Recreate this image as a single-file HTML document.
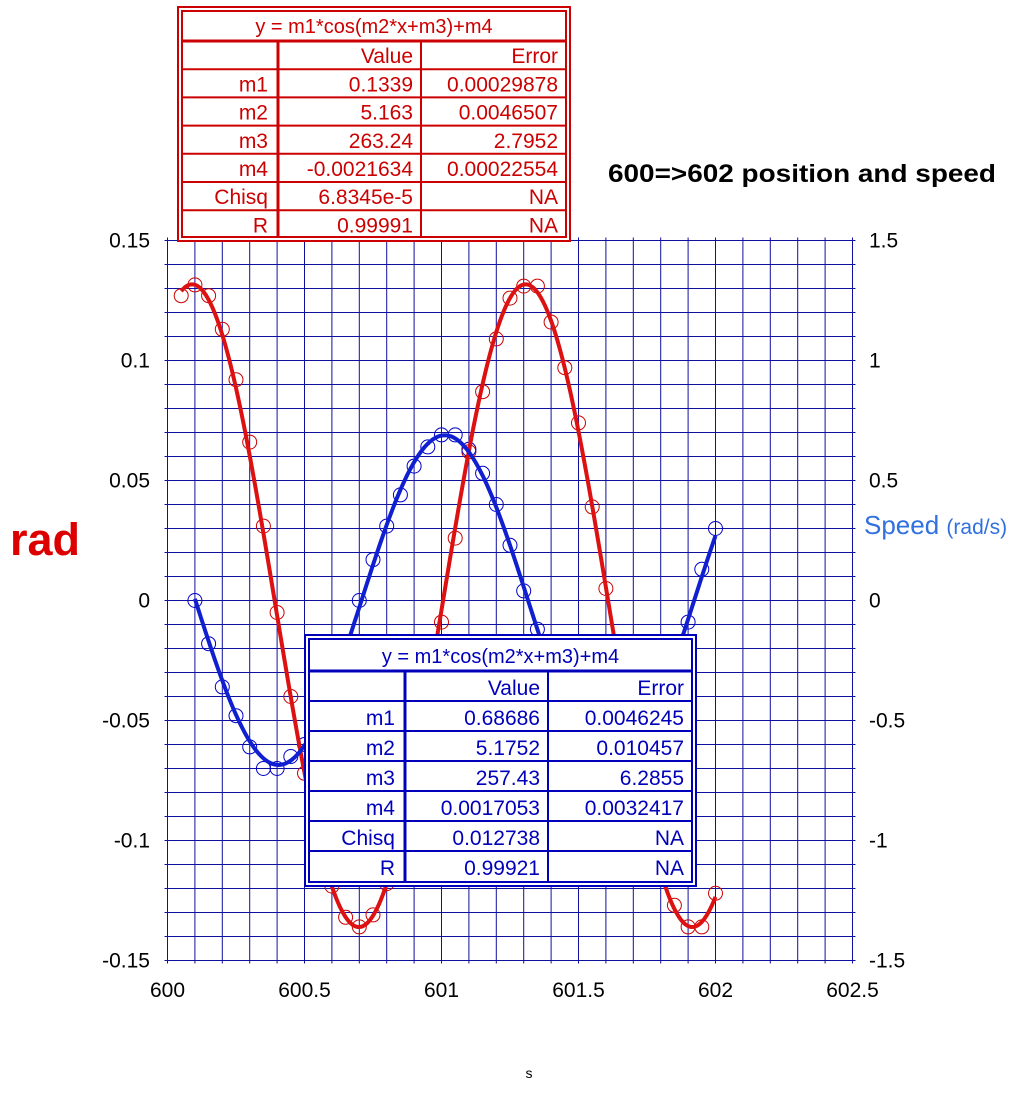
<!DOCTYPE html>
<html><head><meta charset="utf-8"><style>
html,body{margin:0;padding:0;background:#fff;}
svg text{font-family:"Liberation Sans",Arial,sans-serif;}
</style></head><body>
<svg id="chart" width="1034" height="1093" viewBox="0 0 1034 1093" xmlns="http://www.w3.org/2000/svg">
<rect width="1034" height="1093" fill="#fff"/>
<g id="grid"></g>
<g id="ticks"></g>
<g id="series"></g>
<text x="608" y="182" font-size="25" font-weight="bold" fill="#000" textLength="388" lengthAdjust="spacingAndGlyphs">600=&gt;602 position and speed</text>
<text x="10" y="555" font-size="45" font-weight="bold" fill="#dd0000">rad</text>
<text x="864" y="534" font-size="26" fill="#3070e0">Speed <tspan font-size="21">(rad/s)</tspan></text>
<text x="529" y="1078" font-size="14" text-anchor="middle" fill="#000">s</text>
<g id="tables"></g>
</svg>
<script>
const xTicks=[600,600.5,601,601.5,602,602.5];
const yTicksLeft=[0.15,0.1,0.05,0,-0.05,-0.1,-0.15];
const yTickLabelsLeft=["0.15","0.1","0.05","0","-0.05","-0.1","-0.15"];
const yTickLabelsRight=["1.5","1","0.5","0","-0.5","-1","-1.5"];
const posX=[600.05,600.1,600.15,600.2,600.25,600.3,600.35,600.4,600.45,600.5,600.55,600.6,600.65,600.7,600.75,600.8,600.85,600.9,600.95,601.0,601.05,601.1,601.15,601.2,601.25,601.3,601.35,601.4,601.45,601.5,601.55,601.6,601.65,601.7,601.75,601.8,601.85,601.9,601.95,602.0];
const posY=[0.127,0.1315,0.127,0.113,0.092,0.066,0.031,-0.005,-0.040,-0.072,-0.099,-0.119,-0.132,-0.136,-0.131,-0.118,-0.097,-0.070,-0.038,-0.009,0.026,0.062,0.087,0.109,0.126,0.131,0.131,0.116,0.097,0.074,0.039,0.005,-0.029,-0.062,-0.090,-0.113,-0.127,-0.136,-0.136,-0.122];
const spdX=[600.1,600.15,600.2,600.25,600.3,600.35,600.4,600.45,600.5,600.55,600.6,600.65,600.7,600.75,600.8,600.85,600.9,600.95,601.0,601.05,601.1,601.15,601.2,601.25,601.3,601.35,601.4,601.45,601.5,601.55,601.6,601.65,601.7,601.75,601.8,601.85,601.9,601.95,602.0];
const spdY=[0.0,-0.18,-0.36,-0.48,-0.61,-0.70,-0.70,-0.65,-0.60,-0.50,-0.36,-0.20,0.0,0.17,0.31,0.44,0.56,0.64,0.69,0.69,0.63,0.53,0.40,0.23,0.04,-0.12,-0.29,-0.44,-0.56,-0.64,-0.68,-0.68,-0.62,-0.53,-0.41,-0.25,-0.09,0.13,0.30];
const posFit=[0.1339,5.163,263.24,-0.0021634];
const spdFit=[0.68686,5.1752,257.43,0.0017053];
const posTable=[["m1","0.1339","0.00029878"],["m2","5.163","0.0046507"],["m3","263.24","2.7952"],["m4","-0.0021634","0.00022554"],["Chisq","6.8345e-5","NA"],["R","0.99991","NA"]];
const spdTable=[["m1","0.68686","0.0046245"],["m2","5.1752","0.010457"],["m3","257.43","6.2855"],["m4","0.0017053","0.0032417"],["Chisq","0.012738","NA"],["R","0.99921","NA"]];

const NS="http://www.w3.org/2000/svg";
const L=167.5,R=852.5,T=240.5,B=960.5;
const sx=v=>L+(v-600)/2.5*(R-L);
const syL=v=>T+(0.15-v)/0.3*(B-T);
const syR=v=>T+(1.5-v)/3*(B-T);
function mk(tag,attrs,parent){const e=document.createElementNS(NS,tag);for(const k in attrs)e.setAttribute(k,attrs[k]);parent.appendChild(e);return e;}
const grid=document.getElementById('grid'),ticks=document.getElementById('ticks'),ser=document.getElementById('series'),tbl=document.getElementById('tables');
for(let i=0;i<=25;i++){const x=sx(600+i*0.1);
 const ln=mk('line',{x1:x,x2:x,y1:T-3,y2:B+3,stroke:'#1010a0','stroke-width':1},grid);
 
 }
for(let i=0;i<=30;i++){const y=syL(0.15-i*0.01);
 const ln=mk('line',{x1:L-3,x2:R+3,y1:y,y2:y,stroke:'#1010a0','stroke-width':1},grid);
 
 }
xTicks.forEach(v=>{const t=mk('text',{x:sx(v),y:997,'font-size':21,'text-anchor':'middle',fill:'#000'},ticks);t.textContent=String(v);
 
 });
yTicksLeft.forEach((v,i)=>{const y=syL(v)+7;
 const t=mk('text',{x:150,y:y,'font-size':21,'text-anchor':'end',fill:'#000'},ticks);t.textContent=yTickLabelsLeft[i];
 
 
 const t2=mk('text',{x:869,y:y,'font-size':21,fill:'#000'},ticks);t2.textContent=yTickLabelsRight[i];
 
 });
function fitPath(p,x0,x1,sy){let d='';for(let i=0;i<=300;i++){const x=x0+(x1-x0)*i/300;const y=p[0]*Math.cos(p[1]*x+p[2])+p[3];d+=(i?'L':'M')+sx(x).toFixed(2)+','+sy(y).toFixed(2);}return d;}
function circles(xs,ys,sy,col,name){xs.forEach((x,i)=>{const c=mk('circle',{cx:sx(x),cy:sy(ys[i]),r:7,fill:'none',stroke:col,'stroke-width':1},ser);
 
 });}
circles(posX,posY,syL,'#cc0000','position-point');
circles(spdX,spdY,syR,'#0000cc','speed-point');
const pf=mk('path',{d:fitPath(posFit,posX[0],posX[posX.length-1],syL),fill:'none',stroke:'#dd1111','stroke-width':4},ser);


const sf=mk('path',{d:fitPath(spdFit,spdX[0],spdX[spdX.length-1],syR),fill:'none',stroke:'#1020d0','stroke-width':4},ser);


function table(rows,x,y,w,h,titleH,rowH,c1,c2,col,name){
 const g=mk('g',{},tbl);
 
 
 mk('rect',{x:x,y:y,width:w,height:h,fill:'#fff',stroke:col,'stroke-width':2},g);
 mk('rect',{x:x+4,y:y+4,width:w-8,height:h-8,fill:'none',stroke:col,'stroke-width':2},g);
 const ix=x+4,iw=w-8,ty=y+4;
 const tt=mk('text',{x:x+w/2,y:ty+titleH-8,'font-size':20,'text-anchor':'middle',fill:col},g);tt.textContent='y = m1*cos(m2*x+m3)+m4';
 mk('line',{x1:ix,x2:ix+iw,y1:ty+titleH,y2:ty+titleH,stroke:col,'stroke-width':3},g);
 const all=[["","Value","Error"]].concat(rows);
 all.forEach((r,i)=>{const ry=ty+titleH+i*rowH;
  if(i>0)mk('line',{x1:ix,x2:ix+iw,y1:ry,y2:ry,stroke:col,'stroke-width':2},g);
  const by=ry+rowH-6;
  [[c1-10,r[0]],[c2-8,r[1]],[ix+iw-8,r[2]]].forEach(([tx,s])=>{if(!s)return;const t=mk('text',{x:tx,y:by,'font-size':21,'text-anchor':'end',fill:col},g);t.textContent=s;});});
 mk('line',{x1:c1,x2:c1,y1:ty+titleH,y2:y+h-4,stroke:col,'stroke-width':3},g);
 mk('line',{x1:c2,x2:c2,y1:ty+titleH,y2:y+h-4,stroke:col,'stroke-width':2},g);
}
table(posTable,178,7,392,234,30,28.2,278,421,'#cc0000','position-fit-table');
table(spdTable,305,635,391,251,32,30,405,548,'#0000bb','speed-fit-table');
</script>
</body></html>
